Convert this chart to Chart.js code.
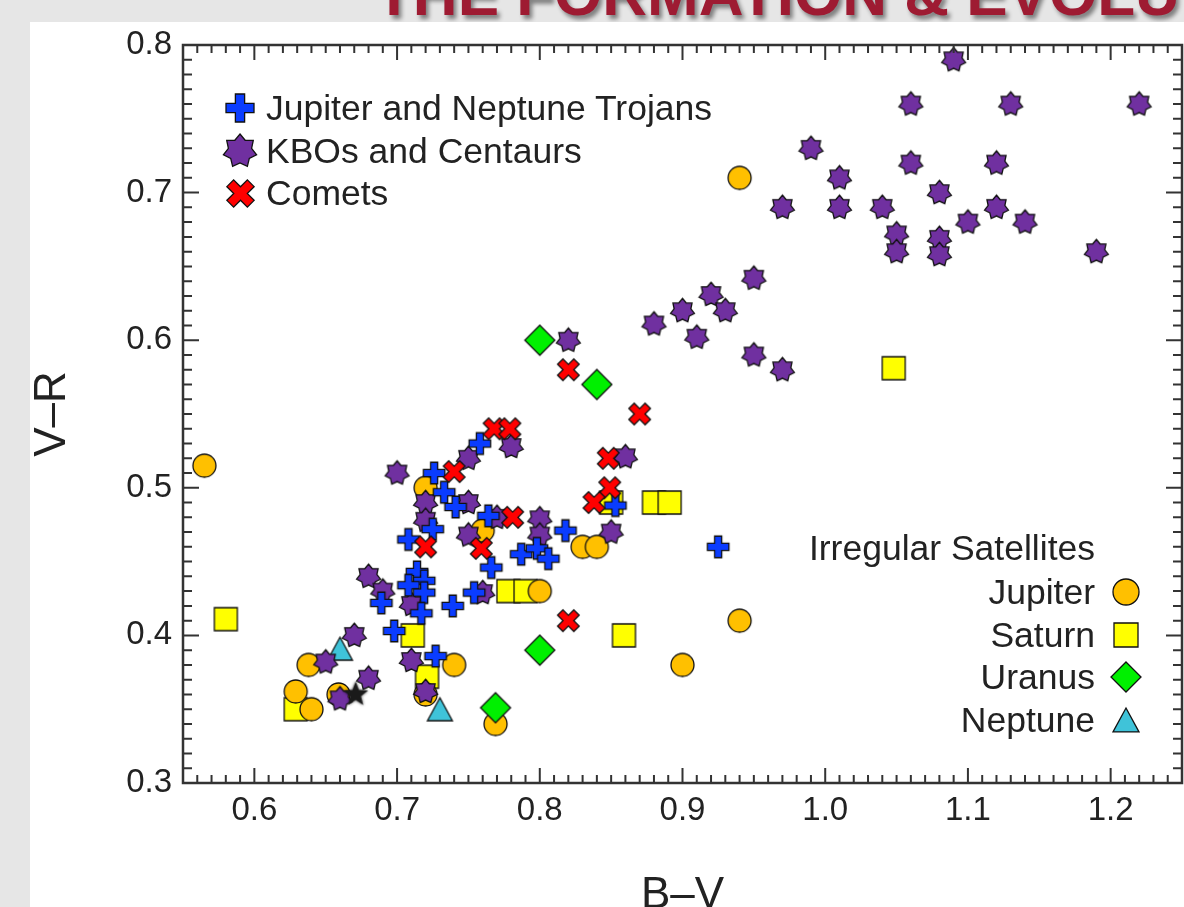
<!DOCTYPE html>
<html lang="en">
<head>
    <meta charset="UTF-8">
    <title>B–V x V–R</title>
    <script src="https://cdn.jsdelivr.net/npm/chart.js"></script>
    <style>
        body {
            margin: 0;
            width: 1184px;
            height: 907px;
            overflow: hidden;
            position: relative;
            background: #e6e6e6;
            font-family: "Liberation Sans", Arial, sans-serif;
        }
        .titulo {
            position: absolute;
            left: 375px;
            top: -37px;
            font-size: 62px;
            line-height: 1;
            font-weight: bold;
            color: #9e1b32;
            white-space: nowrap;
            text-shadow: 3px 4px 4px rgba(0, 0, 0, 0.45);
        }
        .painel {
            position: absolute;
            left: 30px;
            top: 22px;
            width: 1154px;
            height: 885px;
            background: #fff;
            overflow: hidden;
        }
        #grafico {
            position: absolute;
            left: 0;
            top: 0;
        }
        .leg {
            position: absolute;
            font-size: 35.5px;
            line-height: 34px;
            color: #222;
            white-space: nowrap;
        }
        .marca {
            position: absolute;
        }
    </style>
</head>
<body>
    <div class="titulo">THE FORMATION &amp; EVOLUTION</div>
    <div class="painel" id="painel">
        <canvas id="grafico" width="1164" height="900"></canvas>
    </div>

    <script>
        // Jupiter and Neptune Trojans
        const trojanBV = [0.758, 0.726, 0.733, 0.741, 0.764, 0.725, 0.708, 0.766, 0.787, 0.798, 0.806, 0.818,
            0.853, 0.925, 0.714, 0.719, 0.708, 0.719, 0.689, 0.717, 0.739, 0.754, 0.698, 0.727];
        const trojanVR = [0.53, 0.51, 0.497, 0.487, 0.481, 0.472, 0.465, 0.446, 0.455, 0.459, 0.452, 0.471,
            0.488, 0.46, 0.443, 0.437, 0.434, 0.429, 0.422, 0.415, 0.42, 0.429, 0.403, 0.386];

        // KBOs and Centaurs
        const kboBV = [1.09, 1.06, 1.13, 1.22, 0.99, 1.06, 1.12, 1.01, 1.08, 0.97, 1.01, 1.04, 1.12, 1.05, 1.05,
            1.08, 1.08, 1.10, 1.14, 1.19, 0.95, 0.92, 0.88, 0.90, 0.93, 0.91, 0.95, 0.97, 0.82, 0.86, 0.85,
            0.78, 0.75, 0.70, 0.75, 0.72, 0.72, 0.77, 0.75, 0.80, 0.80, 0.68, 0.69, 0.71, 0.67, 0.65, 0.68,
            0.66, 0.71, 0.72, 0.76];
        const kboVR = [0.79, 0.76, 0.76, 0.76, 0.73, 0.72, 0.72, 0.71, 0.70, 0.69, 0.69, 0.69, 0.69, 0.672, 0.66,
            0.669, 0.658, 0.68, 0.68, 0.66, 0.642, 0.631, 0.611, 0.62, 0.62, 0.602, 0.59, 0.58, 0.60, 0.521, 0.47,
            0.528, 0.52, 0.51, 0.49, 0.49, 0.478, 0.48, 0.468, 0.479, 0.468, 0.44, 0.43, 0.421, 0.40, 0.382, 0.371,
            0.357, 0.383, 0.362, 0.429];

        // Comets
        const cometBV = [0.82, 0.87, 0.768, 0.779, 0.848, 0.74, 0.849, 0.838, 0.781, 0.759, 0.72, 0.82];
        const cometVR = [0.58, 0.55, 0.54, 0.54, 0.52, 0.511, 0.50, 0.49, 0.48, 0.459, 0.46, 0.41];

        // Irregular satellites
        const jupiterBV = [0.94, 0.565, 0.72, 0.76, 0.83, 0.84, 0.80, 0.94, 0.90, 0.74, 0.638, 0.629, 0.64, 0.659, 0.72, 0.769];
        const jupiterVR = [0.71, 0.515, 0.50, 0.471, 0.46, 0.46, 0.43, 0.41, 0.38, 0.38, 0.38, 0.362, 0.35, 0.36, 0.36, 0.34];

        const saturnBV = [1.048, 0.58, 0.629, 0.711, 0.721, 0.778, 0.79, 0.85, 0.88, 0.891, 0.859];
        const saturnVR = [0.581, 0.411, 0.35, 0.40, 0.372, 0.43, 0.43, 0.49, 0.49, 0.49, 0.40];

        const uranusBV = [0.80, 0.84, 0.80, 0.769];
        const uranusVR = [0.60, 0.57, 0.39, 0.351];

        const neptuneBV = [0.66, 0.73];
        const neptuneVR = [0.391, 0.35];

        // Sol
        const solBV = [0.671];
        const solVR = [0.36];

        const xTicks = [0.6, 0.7, 0.8, 0.9, 1.0, 1.1, 1.2];
        const yTicks = [0.3, 0.4, 0.5, 0.6, 0.7, 0.8];

        function pontos(bv, vr) {
            return bv.map(function (v, i) { return { x: v, y: vr[i] }; });
        }

        // desenha um marcador num canvas pequeno
        function marcador(tipo, s, cor) {
            const c = document.createElement('canvas');
            const lado = Math.ceil(s + 8);
            c.width = lado;
            c.height = lado;
            const ctx = c.getContext('2d');
            ctx.translate(lado / 2, lado / 2);
            ctx.lineWidth = 1.3;
            ctx.strokeStyle = '#111';
            ctx.lineJoin = 'miter';
            ctx.beginPath();
            if (tipo === 'circulo') {
                ctx.arc(0, 0, s / 2, 0, Math.PI * 2);
            } else if (tipo === 'quadrado') {
                ctx.rect(-s / 2, -s / 2, s, s);
            } else if (tipo === 'losango') {
                ctx.moveTo(0, -s / 2);
                ctx.lineTo(s / 2, 0);
                ctx.lineTo(0, s / 2);
                ctx.lineTo(-s / 2, 0);
            } else if (tipo === 'triangulo') {
                const h = s * 0.92;
                ctx.moveTo(0, -h / 2);
                ctx.lineTo(s / 2, h / 2);
                ctx.lineTo(-s / 2, h / 2);
            } else if (tipo === 'mais' || tipo === 'xis') {
                if (tipo === 'xis') ctx.rotate(Math.PI / 4);
                const a = s / 2;
                const t = s * 0.165;
                ctx.moveTo(-t, -a);
                ctx.lineTo(t, -a);
                ctx.lineTo(t, -t);
                ctx.lineTo(a, -t);
                ctx.lineTo(a, t);
                ctx.lineTo(t, t);
                ctx.lineTo(t, a);
                ctx.lineTo(-t, a);
                ctx.lineTo(-t, t);
                ctx.lineTo(-a, t);
                ctx.lineTo(-a, -t);
                ctx.lineTo(-t, -t);
            } else if (tipo === 'estrela7' || tipo === 'estrela5') {
                const n = tipo === 'estrela7' ? 7 : 5;
                const r1 = s / 2;
                const r2 = tipo === 'estrela7' ? r1 * 0.7 : r1 * 0.42;
                for (let i = 0; i < n * 2; i++) {
                    const r = i % 2 === 0 ? r1 : r2;
                    const ang = -Math.PI / 2 + i * Math.PI / n;
                    if (i === 0) ctx.moveTo(r * Math.cos(ang), r * Math.sin(ang));
                    else ctx.lineTo(r * Math.cos(ang), r * Math.sin(ang));
                }
            }
            ctx.closePath();
            ctx.fillStyle = cor;
            if (tipo === 'estrela5') {
                ctx.shadowColor = 'rgba(0,0,0,0.8)';
                ctx.shadowBlur = 3;
                ctx.fill();
            } else {
                ctx.fill();
                ctx.stroke();
            }
            return c;
        }

        const azul = '#0a3cff';
        const roxo = '#7030a0';
        const vermelho = '#ff0000';
        const laranja = '#ffc000';
        const amarelo = '#ffff00';
        const verde = '#00f000';
        const ciano = '#3fc3d9';

        function serie(label, bv, vr, estilo, ordem) {
            return {
                label: label,
                data: pontos(bv, vr),
                pointStyle: estilo,
                pointRadius: 11,
                pointHoverRadius: 11,
                order: ordem
            };
        }

        const moldura = {
            id: 'moldura',
            afterDraw(chart) {
                const ctx = chart.ctx;
                const a = chart.chartArea;
                const x = chart.scales.x;
                const y = chart.scales.y;
                ctx.save();
                ctx.strokeStyle = '#333';
                ctx.lineWidth = 2;
                ctx.beginPath();
                for (let i = 55; i <= 125; i++) {
                    const px = x.getPixelForValue(i / 100);
                    const len = i % 10 === 0 ? 15 : 8;
                    ctx.moveTo(px, a.bottom);
                    ctx.lineTo(px, a.bottom - len);
                    ctx.moveTo(px, a.top);
                    ctx.lineTo(px, a.top + len);
                }
                for (let i = 30; i <= 80; i++) {
                    const py = y.getPixelForValue(i / 100);
                    const len = i % 10 === 0 ? 16 : 9;
                    ctx.moveTo(a.left, py);
                    ctx.lineTo(a.left + len, py);
                    ctx.moveTo(a.right, py);
                    ctx.lineTo(a.right - len, py);
                }
                ctx.stroke();
                ctx.lineWidth = 2.5;
                ctx.strokeRect(a.left, a.top, a.right - a.left, a.bottom - a.top);
                ctx.restore();
            }
        };

        const fonteTicks = { family: '"Liberation Sans", Arial, sans-serif', size: 33 };
        const fonteTitulo = { family: '"Liberation Sans", Arial, sans-serif', size: 44, lineHeight: 1 };

        new Chart(document.getElementById('grafico'), {
            type: 'scatter',
            data: {
                datasets: [
                    serie('Sol', solBV, solVR, marcador('estrela5', 26, '#1a1a1a'), 0),
                    serie('Comets', cometBV, cometVR, marcador('xis', 23, vermelho), 1),
                    serie('Jupiter and Neptune Trojans', trojanBV, trojanVR, marcador('mais', 21.5, azul), 2),
                    serie('KBOs and Centaurs', kboBV, kboVR, marcador('estrela7', 24.5, roxo), 3),
                    serie('Neptune', neptuneBV, neptuneVR, marcador('triangulo', 25, ciano), 4),
                    serie('Uranus', uranusBV, uranusVR, marcador('losango', 30, verde), 5),
                    serie('Jupiter', jupiterBV, jupiterVR, marcador('circulo', 23, laranja), 6),
                    serie('Saturn', saturnBV, saturnVR, marcador('quadrado', 23, amarelo), 7)
                ]
            },
            options: {
                responsive: false,
                animation: false,
                devicePixelRatio: 1,
                layout: { padding: { top: 23, right: 2, left: 0, bottom: 0 } },
                plugins: {
                    legend: { display: false },
                    tooltip: { enabled: false }
                },
                scales: {
                    x: {
                        type: 'linear',
                        min: 0.55,
                        max: 1.25,
                        grid: { display: false, drawTicks: false },
                        border: { display: false },
                        afterBuildTicks: function (s) { s.ticks = xTicks.map(function (v) { return { value: v }; }); },
                        afterFit: function (s) {
                            s.height = 139;
                            s.paddingLeft = 0;
                            s.paddingRight = 0;
                        },
                        ticks: {
                            padding: 8,
                            autoSkip: false,
                            maxRotation: 0,
                            color: '#222',
                            font: fonteTicks,
                            callback: function (v) { return v.toFixed(1); }
                        },
                        title: {
                            display: true,
                            text: 'B–V',
                            color: '#222',
                            font: fonteTitulo,
                            padding: { top: 0, bottom: 4 }
                        }
                    },
                    y: {
                        type: 'linear',
                        min: 0.3,
                        max: 0.8,
                        grid: { display: false, drawTicks: false },
                        border: { display: false },
                        afterBuildTicks: function (s) { s.ticks = yTicks.map(function (v) { return { value: v }; }); },
                        afterFit: function (s) {
                            s.width = 153;
                            s.paddingTop = 0;
                            s.paddingBottom = 0;
                        },
                        ticks: {
                            padding: 11,
                            autoSkip: false,
                            color: '#222',
                            font: fonteTicks,
                            callback: function (v) { return v.toFixed(1); }
                        },
                        title: {
                            display: true,
                            text: 'V–R',
                            color: '#222',
                            font: fonteTitulo,
                            padding: { top: 1, bottom: 0 }
                        }
                    }
                }
            },
            plugins: [moldura]
        });

        // legendas em HTML
        const painel = document.getElementById('painel');

        function texto(t, css) {
            const d = document.createElement('div');
            d.className = 'leg';
            d.textContent = t;
            d.style.cssText = css;
            painel.appendChild(d);
        }

        function icone(c, cx, cy) {
            c.className = 'marca';
            c.style.left = (cx - c.width / 2) + 'px';
            c.style.top = (cy - c.height / 2) + 'px';
            painel.appendChild(c);
        }

        const legendaCima = ['Jupiter and Neptune Trojans', 'KBOs and Centaurs', 'Comets'];
        const iconesCima = [marcador('mais', 28, azul), marcador('estrela7', 34, roxo), marcador('xis', 29, vermelho)];
        legendaCima.forEach(function (t, i) {
            const cy = 86 + i * 42.5;
            icone(iconesCima[i], 210, cy);
            texto(t, 'left:236px; top:' + (cy - 17) + 'px;');
        });

        texto('Irregular Satellites', 'right:89px; top:' + (526 - 17) + 'px;');
        const legendaBaixo = ['Jupiter', 'Saturn', 'Uranus', 'Neptune'];
        const iconesBaixo = [marcador('circulo', 26, laranja), marcador('quadrado', 24, amarelo),
            marcador('losango', 30, verde), marcador('triangulo', 26, ciano)];
        legendaBaixo.forEach(function (t, i) {
            const cy = 570 + i * 42.7;
            icone(iconesBaixo[i], 1096, cy);
            texto(t, 'right:89px; top:' + (cy - 17) + 'px;');
        });
    </script>
</body>
</html>
